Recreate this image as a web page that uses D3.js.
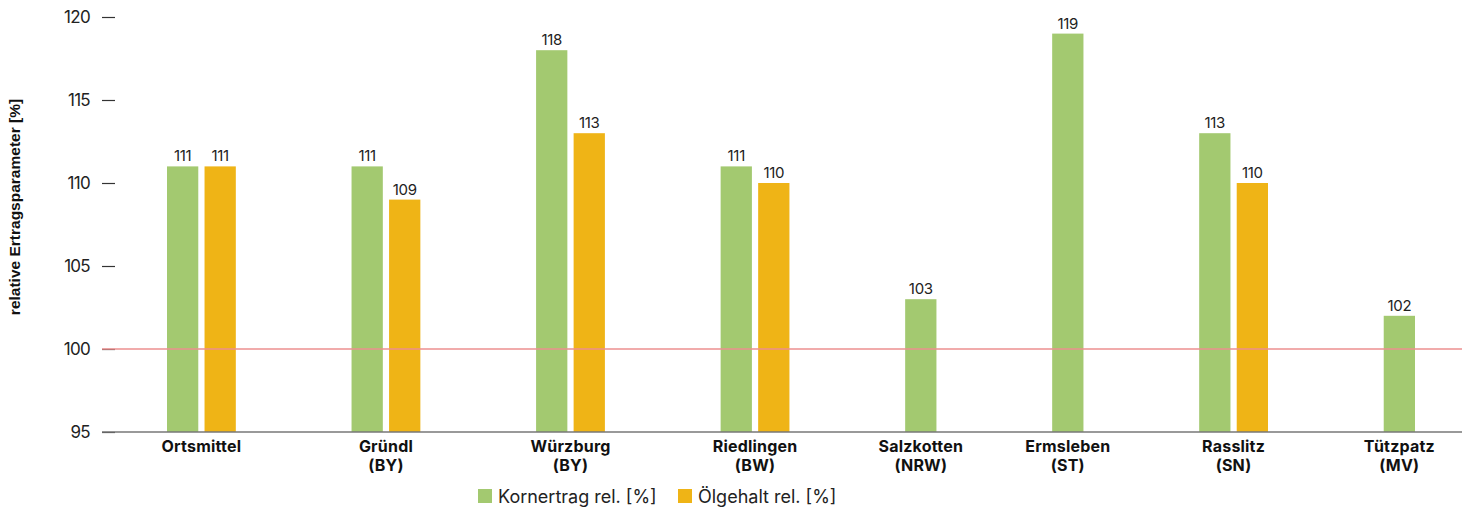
<!DOCTYPE html>
<html>
<head>
<meta charset="utf-8">
<script src="https://cdn.jsdelivr.net/npm/d3@7"></script>
<style>
  body { margin: 0; background: #fff; }
  svg { display: block; font-family: Inter, Roboto, sans-serif; }
</style>
</head>
<body>
<svg></svg>
<script>
// values
let categories = [
  ["Ortsmittel"],
  ["Gründl", "(BY)"],
  ["Würzburg", "(BY)"],
  ["Riedlingen", "(BW)"],
  ["Salzkotten", "(NRW)"],
  ["Ermsleben", "(ST)"],
  ["Rasslitz", "(SN)"],
  ["Tützpatz", "(MV)"]
]
let kornertrag = [111, 111, 118, 111, 103, 119, 113, 102]
let oelgehalt = [111, 109, 113, 110, null, null, 110, null]
let seriesNames = ["Kornertrag rel. [%]", "Ölgehalt rel. [%]"]
let seriesColors = ["#a3c970", "#efb416"]
let yTicks = [95, 100, 105, 110, 115, 120]
let refValue = 100

let width = 1466
let height = 509

let svg = d3.select("svg")
  .attr("width", width)
  .attr("height", height)

// widths in "bar units": bar = 1, gap inside a group, gap between groups
let innerGap = 0.2
let groupGap = 3.7

// lay out the bars one after the other, only for values that exist
let bars = []
let groups = []
let cursor = 0
categories.forEach((cat, i) => {
  let vals = [kornertrag[i], oelgehalt[i]]
  let start = cursor
  let n = 0
  vals.forEach((v, s) => {
    if (v == null) return
    if (n > 0) cursor += innerGap
    bars.push({ pos: cursor, value: v, series: s })
    cursor += 1
    n++
  })
  groups.push({ lines: cat, mid: (start + cursor) / 2 })
  cursor += groupGap
})
let totalUnits = cursor - groupGap

let xScale = d3.scaleLinear()
  .domain([0, totalUnits])
  .range([167, 1415])

let unit = xScale(1) - xScale(0)

let yScale = d3.scaleLinear()
  .domain([95, 120])
  .range([432, 17])

let plotLeft = 102
let plotRight = 1462

// y axis: short dashes, no domain line
let yAxis = d3.axisLeft(yScale)
  .tickValues(yTicks)
  .tickSize(13)
  .tickPadding(12)
svg.append("g")
  .attr("transform", "translate(" + (plotLeft + 13) + ",0)")
  .call(yAxis)
  .call(g => g.select(".domain").remove())
  .call(g => g.selectAll(".tick line").attr("stroke", "#333").attr("stroke-width", 1.2))
  .call(g => g.selectAll(".tick text")
    .attr("fill", "#222")
    .style("font-size", "17px")
    .style("letter-spacing", "-0.7px")
    .style("font-family", "Inter, sans-serif"))

// y title
svg.append("text")
  .attr("transform", "translate(20,207) rotate(-90)")
  .attr("text-anchor", "middle")
  .style("font-family", "'Liberation Sans', Arial, sans-serif")
  .style("font-size", "15.5px")
  .style("font-weight", "bold")
  .attr("fill", "#111")
  .text("relative Ertragsparameter [%]")

// bars
svg.selectAll("rect.bar")
  .data(bars)
  .enter()
  .append("rect")
  .attr("class", "bar")
  .attr("x", d => xScale(d.pos))
  .attr("width", unit)
  .attr("y", d => yScale(d.value))
  .attr("height", d => yScale(95) - yScale(d.value))
  .attr("fill", d => seriesColors[d.series])

// value labels
svg.selectAll("text.val")
  .data(bars)
  .enter()
  .append("text")
  .attr("class", "val")
  .attr("x", d => xScale(d.pos) + unit / 2)
  .attr("y", d => yScale(d.value) - 5)
  .attr("text-anchor", "middle")
  .attr("fill", "#222")
  .style("font-size", "15px")
  .style("letter-spacing", "-0.3px")
  .text(d => d.value)

// reference line at 100
svg.append("line")
  .attr("x1", plotLeft)
  .attr("x2", plotRight)
  .attr("y1", yScale(refValue))
  .attr("y2", yScale(refValue))
  .attr("stroke", "#ec8f8f")
  .attr("stroke-width", 1.5)

// baseline
svg.append("line")
  .attr("x1", plotLeft)
  .attr("x2", plotRight)
  .attr("y1", yScale(95))
  .attr("y2", yScale(95))
  .attr("stroke", "#777")
  .attr("stroke-width", 1.5)

// category labels
let catText = svg.selectAll("text.cat")
  .data(groups)
  .enter()
  .append("text")
  .attr("class", "cat")
  .attr("text-anchor", "middle")
  .attr("fill", "#111")
  .style("font-size", "16px")
  .style("font-weight", "bold")
  .style("letter-spacing", "0.2px")
catText.selectAll("tspan")
  .data(d => d.lines.map(l => ({ line: l, mid: d.mid })))
  .enter()
  .append("tspan")
  .attr("x", d => xScale(d.mid))
  .attr("y", (d, i) => 452 + i * 19)
  .text(d => d.line)

// legend
let legendX = [478, 678]
let legend = svg.selectAll("g.legend")
  .data(seriesNames)
  .enter()
  .append("g")
  .attr("class", "legend")
  .attr("transform", (d, i) => "translate(" + legendX[i] + ",489)")
legend.append("rect")
  .attr("width", 14)
  .attr("height", 14)
  .attr("fill", (d, i) => seriesColors[i])
legend.append("text")
  .attr("x", 20)
  .attr("y", 13.5)
  .attr("fill", "#222")
  .style("font-size", "18px")
  .text(d => d)
</script>
</body>
</html>
